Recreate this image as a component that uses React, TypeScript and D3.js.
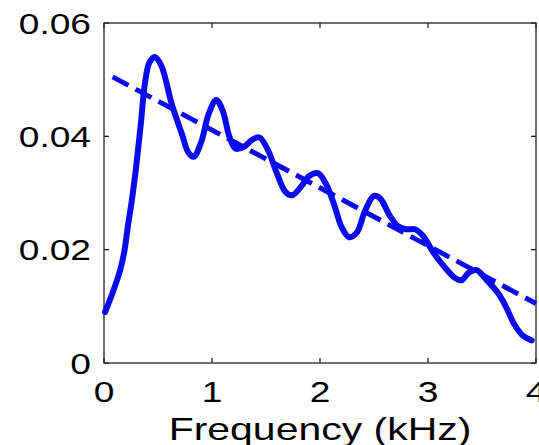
import React from "react";
import * as d3 from "d3";

const freq = [0.01, 0.08, 0.15, 0.19, 0.22, 0.26, 0.30, 0.34, 0.38, 0.42, 0.47, 0.53, 0.63, 0.72, 0.78, 0.83, 0.90, 0.97, 1.04, 1.10, 1.16, 1.22, 1.30, 1.38, 1.44, 1.52, 1.60, 1.68, 1.74, 1.82, 1.90, 1.98, 2.05, 2.13, 2.20, 2.27, 2.34, 2.42, 2.50, 2.56, 2.64, 2.72, 2.80, 2.88, 2.95, 3.05, 3.15, 3.25, 3.31, 3.38, 3.45, 3.55, 3.65, 3.72, 3.80, 3.88, 3.96];
const spectrum = [0.0090, 0.0124, 0.0164, 0.0199, 0.0240, 0.0290, 0.0350, 0.0420, 0.0495, 0.0530, 0.0540, 0.0525, 0.0455, 0.0405, 0.0372, 0.0364, 0.0390, 0.0440, 0.0464, 0.0445, 0.0400, 0.0378, 0.0382, 0.0395, 0.0398, 0.0375, 0.0335, 0.0302, 0.0296, 0.0310, 0.0330, 0.0335, 0.0318, 0.0280, 0.0240, 0.0222, 0.0230, 0.0270, 0.0295, 0.0290, 0.0262, 0.0242, 0.0236, 0.0236, 0.0225, 0.0195, 0.0170, 0.0150, 0.0146, 0.0160, 0.0164, 0.0145, 0.0123, 0.0100, 0.0068, 0.0048, 0.0040];
const trendFreq = [0.08, 4.0];
const trendValue = [0.0505, 0.0105];
const xTicks = [0, 1, 2, 3, 4];
const yTicks = [0, 0.02, 0.04, 0.06];
const yTickLabels = ["0", "0.02", "0.04", "0.06"];
const xLabel = "Frequency (kHz)";

const W = 539, H = 445;
const left = 104, right = 536, top = 23, bottom = 363;
const STRETCH = 1.28;
const FONT = "'Liberation Sans', Arial, Helvetica, sans-serif";
const BLUE = "#0a0aee";

export default function App() {
  const x = d3.scaleLinear().domain([0, 4]).range([left, right]);
  const y = d3.scaleLinear().domain([0, 0.06]).range([bottom, top]);
  const line = d3.line<[number, number]>().x(d => x(d[0])).y(d => y(d[1])).curve(d3.curveCatmullRom.alpha(0.5));
  const solid = line(freq.map((f, i) => [f, spectrum[i]] as [number, number])) || "";
  const straight = d3.line<[number, number]>().x(d => x(d[0])).y(d => y(d[1]));
  const trend = straight(trendFreq.map((f, i) => [f, trendValue[i]] as [number, number])) || "";
  const tl = 5;
  return (
    <svg width={W} height={H} style={{ position: "absolute", left: 0, top: 0, background: "#fff" }}>
      <rect x={0} y={0} width={W} height={H} fill="#fff" />
      <g stroke="#222" strokeWidth={1.3} fill="none">
        <rect x={left} y={top} width={right - left} height={bottom - top} />
        {xTicks.map(t => (
          <g key={"x" + t}>
            <line x1={x(t)} x2={x(t)} y1={bottom} y2={bottom - tl} />
            <line x1={x(t)} x2={x(t)} y1={top} y2={top + tl} />
          </g>
        ))}
        {yTicks.map(t => (
          <g key={"y" + t}>
            <line x1={left} x2={left + tl} y1={y(t)} y2={y(t)} />
            <line x1={right} x2={right - tl} y1={y(t)} y2={y(t)} />
          </g>
        ))}
      </g>
      <path d={trend} fill="none" stroke={BLUE} strokeWidth={5} strokeDasharray="18 8" />
      <path d={solid} fill="none" stroke={BLUE} strokeWidth={6} strokeLinejoin="round" strokeLinecap="round" />
      <g fontFamily={FONT} fontSize={29} fill="#000">
        {xTicks.map(t => (
          <text key={"xl" + t} transform={`translate(${x(t)},${402}) scale(${STRETCH},1)`} textAnchor="middle">{String(t)}</text>
        ))}
        {yTicks.map((t, i) => (
          <text key={"yl" + t} transform={`translate(${91},${y(t) + 10.5}) scale(${STRETCH},1)`} textAnchor="end">{yTickLabels[i]}</text>
        ))}
      </g>
      <text transform={`translate(${(left + right) / 2},${440}) scale(${STRETCH},1)`} textAnchor="middle" fontFamily={FONT} fontSize={32} fill="#000">{xLabel}</text>
    </svg>
  );
}
